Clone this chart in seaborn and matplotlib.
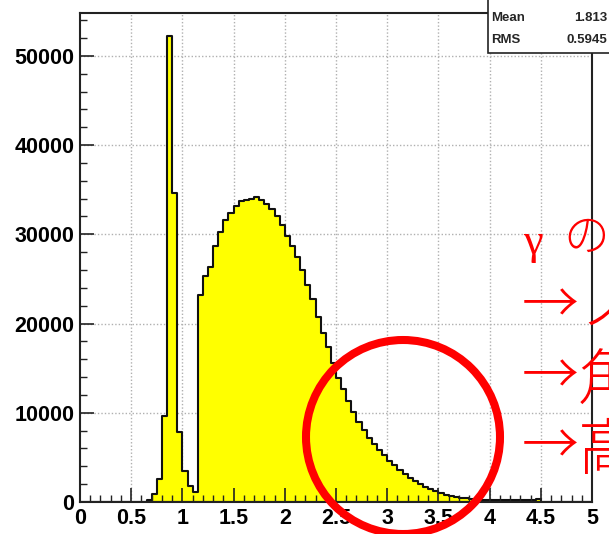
import numpy as np
import pandas as pd
import matplotlib
matplotlib.use("Agg")
import matplotlib.pyplot as plt
import seaborn as sns
from matplotlib.patches import Ellipse, Rectangle
from matplotlib.ticker import MultipleLocator, FuncFormatter

# ---------------- data ----------------
x_lo, x_hi, n_bins = 0.0, 5.0, 100
zeros_left = [0] * 12          # bins 0.00 - 0.55
counts_mid = [                 # bins 0.60 - 4.45
    50, 220, 900, 2550, 9620, 52200, 34600, 7850, 3450, 1800, 1150,
    23150, 25300, 26300, 28700, 30240, 31600, 32350, 33150, 33750, 33850, 33970, 34150,
    33800, 33350, 32800, 32100, 31000, 29800, 28700, 27400, 26000, 24300, 22700, 20700,
    18900, 17400, 15600, 13900, 12700, 11300, 10100, 9000, 8050, 7150, 6500, 5800,
    5250, 4650, 4100, 3550, 3100, 2650, 2300, 2000, 1700, 1450, 1200, 1000,
    830, 700, 580, 480, 400, 330, 280, 240, 210, 190, 180, 170,
    170, 180, 200, 220, 250, 280, 320,
]
zeros_right = [0] * 10         # bins 4.50 - 4.95
counts = zeros_left + counts_mid + zeros_right

stat_labels = ["Mean", "RMS"]
stat_values = ["1.813", "0.5945"]
note_greek = "γ"
note_first = "の"
note_arrow = "→"
note_chars = ["ノ", "角", "高"]

bin_w = (x_hi - x_lo) / n_bins
centers = x_lo + bin_w * (np.arange(n_bins) + 0.5)
df = pd.DataFrame({"x": centers, "w": counts})

# ---------------- style ----------------
sns.set_theme(style="white")
plt.rcParams["font.family"] = ["Liberation Sans", "DejaVu Sans"]

W, H = 609, 534
fig = plt.figure(figsize=(W / 100, H / 100), dpi=100)
ax = fig.add_axes([80 / W, 1 - 502 / H, 512 / W, 489 / H])

sns.histplot(data=df, x="x", weights="w", binwidth=bin_w, binrange=(x_lo, x_hi),
             element="step", fill=True, color="#ffff00", edgecolor="#111111",
             linewidth=1.5, alpha=1, ax=ax, zorder=2)

ax.set_xlim(x_lo, x_hi)
ax.set_ylim(0, 54800)
ax.set_xlabel("")
ax.set_ylabel("")

ax.xaxis.set_major_locator(MultipleLocator(0.5))
ax.xaxis.set_minor_locator(MultipleLocator(0.1))
ax.yaxis.set_major_locator(MultipleLocator(10000))
ax.yaxis.set_minor_locator(MultipleLocator(2000))
ax.xaxis.set_major_formatter(FuncFormatter(lambda v, p: f"{v:g}"))
ax.yaxis.set_major_formatter(FuncFormatter(lambda v, p: f"{int(round(v))}"))

ax.tick_params(axis="both", which="both", direction="in", colors="#222222",
               labelcolor="black", labelsize=15.5, bottom=True, left=True,
               top=False, right=False)
ax.tick_params(which="major", length=10, width=1.2, pad=4)
ax.tick_params(which="minor", length=5, width=1.0)
for lab in ax.get_xticklabels() + ax.get_yticklabels():
    lab.set_fontweight("bold")

for s in ax.spines.values():
    s.set_color("#222222")
    s.set_linewidth(1.5)
    s.set_zorder(5)

# grid (dotted, behind the histogram)
for xv in ax.get_xticks():
    if x_lo < xv < x_hi:
        ax.axvline(xv, color="#b0b0b0", ls=(0, (1, 1.5)), lw=1.0, zorder=0.5)
for yv in ax.get_yticks():
    if 0 < yv < 54800:
        ax.axhline(yv, color="#b0b0b0", ls=(0, (1, 1.5)), lw=1.0, zorder=0.5)
ax.set_axisbelow(False)

# ---------------- stats box ----------------
fig.add_artist(Rectangle((488 / W, 1 - 53 / H), 140 / W, 70 / H, transform=fig.transFigure,
                         facecolor="white", edgecolor="#222222", lw=1.2, zorder=10))
for i, (lab, val) in enumerate(zip(stat_labels, stat_values)):
    yy = 1 - (18 + 22 * i) / H
    fig.text(491 / W, yy, lab, fontsize=9.5, fontweight="bold", va="center", ha="left", zorder=11)
    fig.text(607 / W, yy, val, fontsize=9.5, fontweight="bold", va="center", ha="right", zorder=11)

# ---------------- red annotation ----------------
fig.add_artist(Ellipse((403 / W, 1 - 437 / H), 194 / W, 194 / H, transform=fig.transFigure,
                       fill=False, edgecolor="#ff0000", lw=5.8, zorder=12))

cjk = ["Noto Sans CJK JP", "DejaVu Sans"]
red = "#ff0000"
fig.text(523 / W, 1 - 243 / H, note_greek, family=["Liberation Serif", "DejaVu Serif"],
         fontsize=32, color=red, va="center", ha="left", zorder=13)
fig.text(563 / W, 1 - 238 / H, note_first, family=cjk, fontsize=33, color=red,
         fontweight="light", va="center", ha="left", zorder=13)
for ch, ya, yc in zip(note_chars, [307, 378, 448], [308, 382, 452]):
    fig.text(522 / W, 1 - ya / H, note_arrow, family=cjk, fontsize=41, color=red,
             fontweight="light", va="center", ha="left", zorder=13)
    fig.text(578 / W, 1 - yc / H, ch, family=cjk, fontsize=44, color=red,
             fontweight="light", va="center", ha="left", zorder=13)

fig.savefig("out.png", dpi=100)
